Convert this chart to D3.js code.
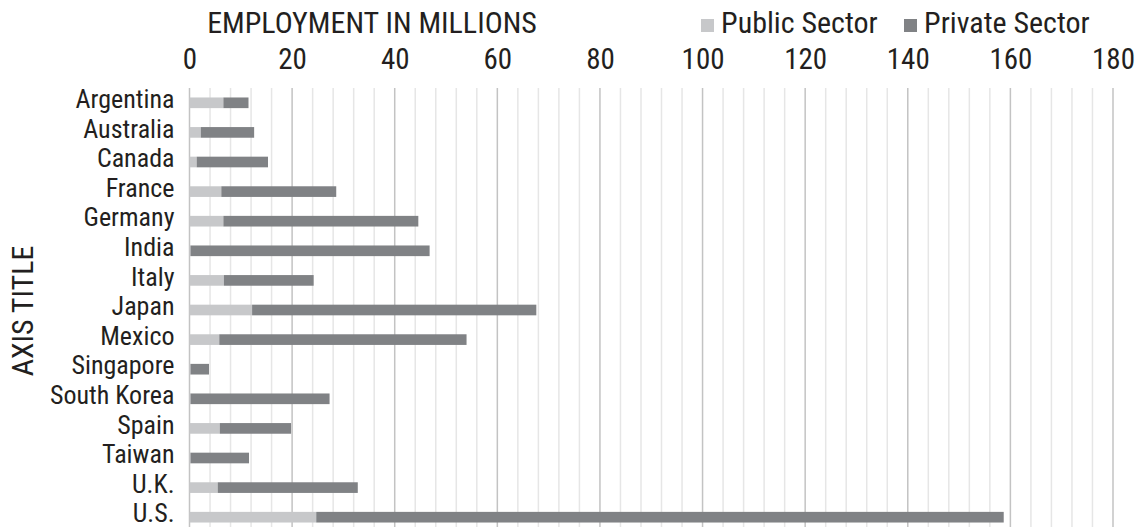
<!DOCTYPE html>
<html>
<head>
<meta charset="utf-8">
<script src="https://cdn.jsdelivr.net/npm/d3@7"></script>
<style>
  body { margin: 0; background: #fff; }
  text { font-family: "Liberation Sans Narrow", "Roboto Condensed", "DejaVu Sans Condensed", sans-serif; fill: #231f20; }
  .axis path { display: none; }
</style>
</head>
<body>
<div id="chart"></div>
<script>
/* DATA */
const countries = ["Argentina", "Australia", "Canada", "France", "Germany", "India", "Italy", "Japan",
  "Mexico", "Singapore", "South Korea", "Spain", "Taiwan", "U.K.", "U.S."];
const publicSector = [6.6, 2.2, 1.4, 6.2, 6.6, 0.2, 6.7, 12.2, 5.8, 0.2, 0.2, 5.9, 0.2, 5.5, 24.7];
const privateSector = [4.9, 10.4, 13.9, 22.4, 38.0, 46.6, 17.5, 55.4, 48.2, 3.6, 27.1, 13.9, 11.4, 27.3, 134.0];
const seriesNames = ["Public Sector", "Private Sector"];
const xTicks = [0, 20, 40, 60, 80, 100, 120, 140, 160, 180];

/* CONSTANTS */
const width = 1138,
  height = 527,
  margin = { top: 88, bottom: -5, left: 189.5, right: 25 };
const colors = ["#c7c8ca", "#808285"];

const rows = countries.map((c, i) => ({ country: c, pub: publicSector[i], priv: privateSector[i] }));

const svg = d3.select("#chart")
  .append("svg")
  .attr("width", width)
  .attr("height", height);

// scales
const xScale = d3.scaleLinear()
  .domain([0, 180])
  .range([margin.left, width - margin.right]);

const yScale = d3.scaleBand()
  .domain(countries)
  .range([margin.top, height - margin.bottom])
  .paddingInner(0.64)
  .paddingOuter(0.32);

// gridlines (minor every 4, major every 20)
svg.append("g")
  .selectAll("line.minor")
  .data(d3.range(0, 181, 4).filter(d => d % 20 !== 0))
  .join("line")
  .attr("class", "minor")
  .attr("x1", d => xScale(d))
  .attr("x2", d => xScale(d))
  .attr("y1", margin.top)
  .attr("y2", height)
  .attr("stroke", "#e6e6e6")
  .attr("stroke-width", 1.5);

svg.append("g")
  .selectAll("line.major")
  .data(xTicks)
  .join("line")
  .attr("class", "major")
  .attr("x1", d => xScale(d))
  .attr("x2", d => xScale(d))
  .attr("y1", margin.top)
  .attr("y2", height)
  .attr("stroke", "#c3c3c3")
  .attr("stroke-width", 1.5);

// stacked bars
const stack = d3.stack().keys(["pub", "priv"]);
const series = stack(rows);

svg.append("g")
  .selectAll("g")
  .data(series)
  .join("g")
  .attr("fill", (d, i) => colors[i])
  .selectAll("rect")
  .data(d => d)
  .join("rect")
  .attr("x", d => xScale(d[0]))
  .attr("width", d => xScale(d[1]) - xScale(d[0]))
  .attr("y", d => yScale(d.data.country))
  .attr("height", yScale.bandwidth());

// x axis on top (labels only)
const xAxis = d3.axisTop(xScale)
  .tickValues(xTicks)
  .tickSize(0)
  .tickPadding(0);

svg.append("g")
  .attr("class", "axis x-axis")
  .attr("transform", "translate(0,69)")
  .call(xAxis)
  .selectAll("text")
  .attr("font-size", 29)
  .attr("dy", 0);

// y axis (category labels)
const yAxis = d3.axisLeft(yScale)
  .tickSize(0)
  .tickPadding(15);

svg.append("g")
  .attr("class", "axis y-axis")
  .attr("transform", `translate(${margin.left},0)`)
  .call(yAxis)
  .selectAll("text")
  .attr("font-size", 26)
  .attr("dy", "0.2em");

// titles
svg.append("text")
  .attr("x", 372)
  .attr("y", 33)
  .attr("text-anchor", "middle")
  .attr("font-size", 30)
  .text("EMPLOYMENT IN MILLIONS");

svg.append("text")
  .attr("transform", "translate(33,311) rotate(-90)")
  .attr("text-anchor", "middle")
  .attr("font-size", 30)
  .text("AXIS TITLE");

// legend
const legendX = [701, 904];
const legend = svg.append("g")
  .selectAll("g")
  .data(seriesNames)
  .join("g")
  .attr("transform", (d, i) => `translate(${legendX[i]},0)`);

legend.append("rect")
  .attr("y", 19)
  .attr("width", 13)
  .attr("height", 13)
  .attr("fill", (d, i) => colors[i]);

legend.append("text")
  .attr("x", 20)
  .attr("y", 33)
  .attr("font-size", 30)
  .text(d => d);
</script>
</body>
</html>
